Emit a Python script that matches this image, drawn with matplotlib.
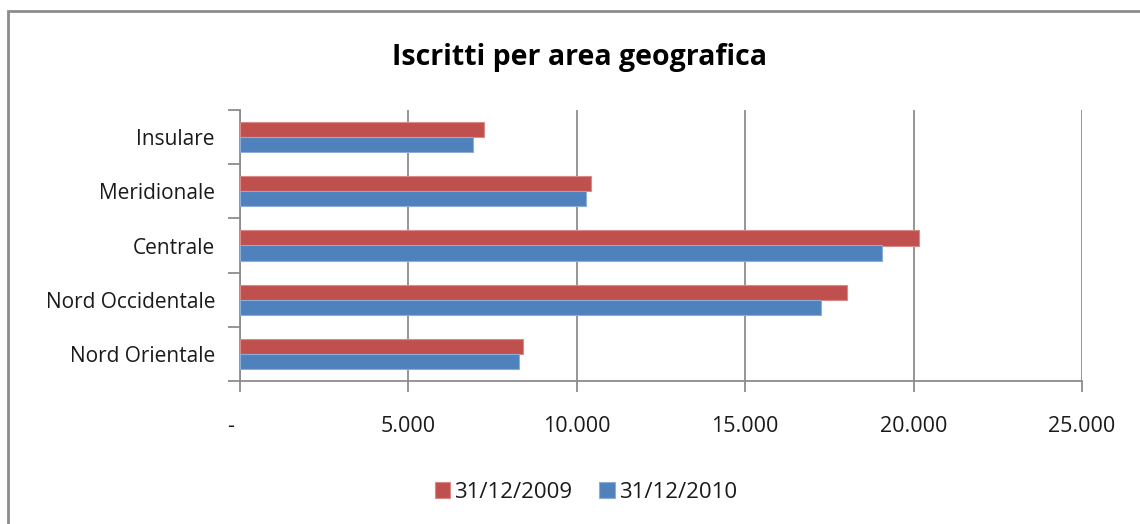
import numpy as np
import matplotlib.pyplot as plt
from matplotlib.patches import Rectangle
from matplotlib.ticker import FixedLocator, NullFormatter

plt.rcParams['font.family'] = ['Open Sans', 'DejaVu Sans']

areas = ['Nord Orientale', 'Nord Occidentale', 'Centrale', 'Meridionale', 'Insulare']
iscritti_2009 = [8395, 18035, 20158, 10424, 7258]
iscritti_2010 = [8277, 17265, 19062, 10276, 6931]
series_labels = ['31/12/2009', '31/12/2010']
x_ticks = [0, 5000, 10000, 15000, 20000, 25000]
x_tick_labels = ['-   ', '5.000', '10.000', '15.000', '20.000', '25.000']

red = '#C0504D'
blue = '#4F81BD'
grey = '#8C8C8C'
txt = '#1A1A1A'

fig = plt.figure(figsize=(11.4, 5.24), dpi=100)
ax = fig.add_axes([240 / 1140, 1 - 381 / 524, 842 / 1140, 271 / 524])

# outer chart frame (runs off the right and bottom edges)
fig.patches.append(Rectangle((8 / 1140, -0.1), 1.2, 1 - 11 / 524 + 0.1,
                             transform=fig.transFigure, fill=False,
                             edgecolor=grey, linewidth=2, zorder=0))

y = np.arange(len(areas))
h = 0.277
ax.barh(y + h / 2, iscritti_2009, height=h, color=red, edgecolor='#D98A88',
        linewidth=0.8, label=series_labels[0], zorder=3)
ax.barh(y - h / 2, iscritti_2010, height=h, color=blue, edgecolor='#8EADD6',
        linewidth=0.8, label=series_labels[1], zorder=3)

ax.set_xlim(0, 25000)
ax.set_ylim(-0.5, len(areas) - 0.5)

ax.set_xticks(x_ticks)
ax.set_xticklabels(x_tick_labels, fontsize=15.5, color=txt)
ax.xaxis.grid(True, color=grey, linewidth=1.3, zorder=0)
ax.tick_params(axis='x', length=8, width=1.3, color=grey, pad=17)

# category boundaries get tick marks, labels sit at the centres
ax.yaxis.set_major_locator(FixedLocator(np.arange(-0.5, len(areas), 1.0)))
ax.yaxis.set_major_formatter(NullFormatter())
ax.yaxis.set_minor_locator(FixedLocator(y))
ax.set_yticklabels(areas, minor=True, fontsize=15, color=txt)
ax.tick_params(axis='y', which='major', length=9, width=1.3, color=grey)
ax.tick_params(axis='y', which='minor', length=0, pad=18)

for s in ['top', 'right']:
    ax.spines[s].set_visible(False)
for s in ['left', 'bottom']:
    ax.spines[s].set_color(grey)
    ax.spines[s].set_linewidth(1.3)

fig.text(580 / 1140, 1 - 57 / 524, 'Iscritti per area geografica',
         ha='center', va='center', fontsize=20.5, fontweight='bold')

fig.legend(loc='center', bbox_to_anchor=(586 / 1140, 1 - 492 / 524), ncol=2,
           frameon=False, fontsize=16, handlelength=0.7, handleheight=0.7,
           handletextpad=0.2, columnspacing=1.2, labelcolor=txt)

fig.savefig('out.png', dpi=100)
